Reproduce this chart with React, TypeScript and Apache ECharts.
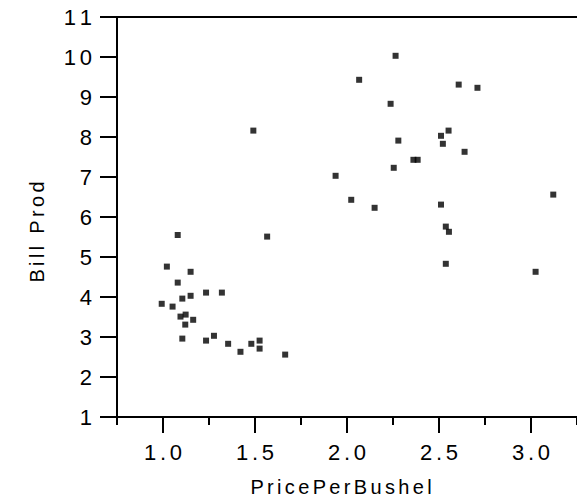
import React, { useEffect, useRef } from "react";
import * as echarts from "echarts";

const xPrice = [
  1.08, 1.566, 1.021, 1.15, 1.08, 1.234, 1.32, 1.105, 1.15, 0.993, 1.052, 1.095,
  1.123, 1.164, 1.121, 1.105, 1.234, 1.277, 1.354, 1.421, 1.48, 1.525, 1.525, 1.664,
  1.491, 2.264, 2.066, 2.607, 2.709, 2.237, 2.552, 2.511, 2.279, 2.521, 2.639, 2.361,
  2.384, 2.254, 1.938, 3.121, 2.023, 2.15, 2.511, 2.537, 2.554, 2.537, 3.025,
];
const yBill = [
  5.55, 5.51, 4.76, 4.63, 4.36, 4.11, 4.11, 3.96, 4.03, 3.83, 3.76, 3.51,
  3.56, 3.43, 3.31, 2.96, 2.91, 3.03, 2.83, 2.63, 2.83, 2.91, 2.71, 2.56,
  8.16, 10.03, 9.43, 9.31, 9.23, 8.83, 8.16, 8.03, 7.91, 7.83, 7.63, 7.43,
  7.43, 7.23, 7.03, 6.56, 6.43, 6.23, 6.31, 5.76, 5.63, 4.83, 4.63,
];
const xMajorTicks = [1.0, 1.5, 2.0, 2.5, 3.0];
const xMinorTicks = [0.75, 1.25, 1.75, 2.25, 2.75, 3.25];
const xTitle = "PricePerBushel";
const yTitle = "Bill Prod";

const SP = "\u2006";
const spaced = (s: string) => s.split("").join(SP);

export default function App() {
  const ref = useRef<HTMLDivElement>(null);
  useEffect(() => {
    const chart = echarts.init(ref.current!, null, { renderer: "svg" });
    const font = "'Liberation Sans', Arial, sans-serif";
    const line = { color: "#000", width: 2 };
    const grid = { left: 117, top: 17, width: 468.75, height: 400, containLabel: false };
    const data = xPrice.map((x, i) => [x, yBill[i]]);
    chart.setOption({
      animation: false,
      backgroundColor: "#fff",
      grid: [grid, { ...grid }],
      xAxis: [
        {
          type: "value",
          gridIndex: 0,
          min: 0.75,
          max: 3.25,
          position: "bottom",
          axisLine: { show: true, onZero: false, lineStyle: line },
          axisTick: { show: true, customValues: xMajorTicks, length: 16, lineStyle: line },
          axisLabel: {
            customValues: xMajorTicks,
            formatter: (v: number) => spaced(v.toFixed(1)),
            color: "#000",
            fontSize: 22,
            fontFamily: font,
            margin: 24,
          },
          splitLine: { show: false },
        },
        {
          type: "value",
          gridIndex: 0,
          min: 0.75,
          max: 3.25,
          position: "top",
          axisLine: { show: true, onZero: false, lineStyle: line },
          axisTick: { show: false },
          axisLabel: { show: false },
          splitLine: { show: false },
        },
        {
          type: "value",
          gridIndex: 1,
          min: 0.75,
          max: 3.25,
          position: "bottom",
          axisLine: { show: false },
          axisTick: { show: true, customValues: xMinorTicks, length: 8, lineStyle: line },
          axisLabel: { show: false },
          splitLine: { show: false },
        },
      ],
      yAxis: [
        {
          type: "value",
          gridIndex: 0,
          min: 1,
          max: 11,
          interval: 1,
          axisLine: { show: true, onZero: false, lineStyle: line },
          axisTick: { show: true, length: 17, lineStyle: line },
          axisLabel: {
            formatter: (v: number) => spaced(String(v)),
            color: "#000",
            fontSize: 22,
            fontFamily: font,
            margin: 25,
          },
          splitLine: { show: false },
        },
        {
          type: "value",
          gridIndex: 1,
          min: 1,
          max: 11,
          show: false,
        },
      ],
      series: [
        {
          type: "scatter",
          xAxisIndex: 0,
          yAxisIndex: 0,
          symbol: "rect",
          symbolSize: 6,
          itemStyle: { color: "#000" },
          data,
        },
      ],
      graphic: [
        {
          type: "text",
          x: 341,
          y: 487,
          style: {
            text: spaced(xTitle),
            font: `20px ${font}`,
            fill: "#000",
            align: "center",
            textAlign: "center",
            verticalAlign: "middle",
            textVerticalAlign: "middle",
          },
        },
        {
          type: "text",
          x: 37,
          y: 232,
          rotation: Math.PI / 2,
          style: {
            text: spaced(yTitle),
            font: `20px ${font}`,
            fill: "#000",
            align: "center",
            textAlign: "center",
            verticalAlign: "middle",
            textVerticalAlign: "middle",
          },
        },
      ],
    });
    return () => chart.dispose();
  }, []);
  return (
    <div
      ref={ref}
      style={{ position: "fixed", left: 0, top: 0, width: 577, height: 498 }}
    />
  );
}
